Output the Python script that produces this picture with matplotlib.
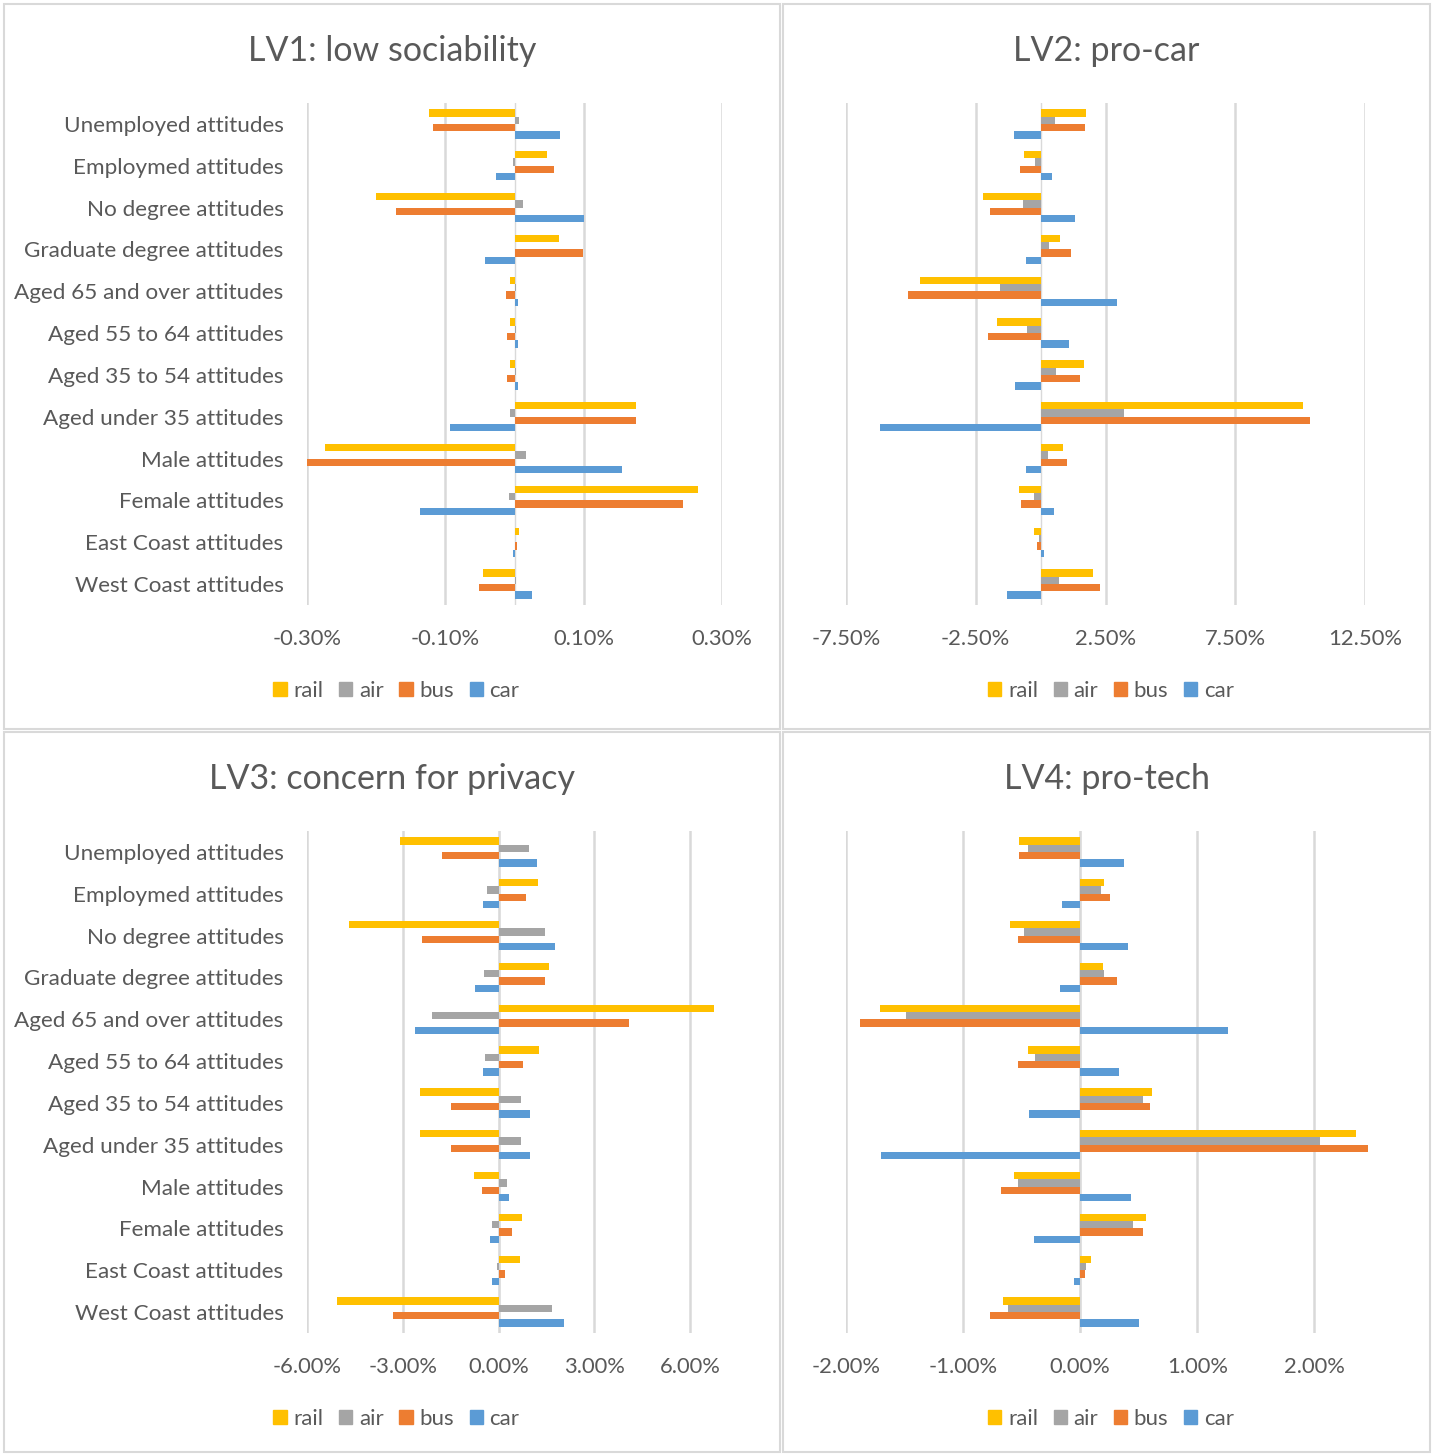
import matplotlib
matplotlib.use("Agg")
import matplotlib.pyplot as plt
from matplotlib.patches import Rectangle, Patch

TEXT_GREY = "#595959"
GRID_GREY = "#d9d9d9"
COLORS = {"rail": "#FFC000", "air": "#A5A5A5", "bus": "#ED7D31", "car": "#5B9BD5"}

plt.rcParams['font.family'] = ['Lato', 'DejaVu Sans']

categories = ["Unemployed attitudes", "Employmed attitudes", "No degree attitudes",
              "Graduate degree attitudes", "Aged 65 and over attitudes",
              "Aged 55 to 64 attitudes", "Aged 35 to 54 attitudes",
              "Aged under 35 attitudes", "Male attitudes", "Female attitudes",
              "East Coast attitudes", "West Coast attitudes"]
series = ["rail", "air", "bus", "car"]

# values in percent, one entry per category (top to bottom)
lv1_rail = [-0.124, 0.047, -0.200, 0.064, -0.007, -0.007, -0.007, 0.175, -0.274, 0.265, 0.006, -0.046]
lv1_air = [0.006, -0.002, 0.012, 0.000, 0.002, 0.002, 0.002, -0.007, 0.017, -0.008, 0.001, 0.002]
lv1_bus = [-0.118, 0.057, -0.172, 0.099, -0.012, -0.011, -0.011, 0.176, -0.301, 0.243, 0.003, -0.051]
lv1_car = [0.066, -0.027, 0.100, -0.043, 0.005, 0.005, 0.005, -0.093, 0.155, -0.137, -0.002, 0.026]

lv2_rail = [1.73, -0.64, -2.23, 0.73, -4.65, -1.70, 1.69, 10.11, 0.86, -0.82, -0.26, 2.03]
lv2_air = [0.57, -0.21, -0.69, 0.32, -1.57, -0.54, 0.60, 3.22, 0.30, -0.26, -0.07, 0.70]
lv2_bus = [1.70, -0.79, -1.95, 1.16, -5.10, -2.04, 1.50, 10.39, 1.00, -0.76, -0.13, 2.28]
lv2_car = [-1.03, 0.44, 1.31, -0.55, 2.94, 1.11, -0.98, -6.19, -0.55, 0.51, 0.13, -1.29]

lv3_rail = [-3.09, 1.23, -4.69, 1.59, 6.76, 1.27, -2.46, -2.46, -0.78, 0.75, 0.66, -5.05]
lv3_air = [0.95, -0.37, 1.46, -0.46, -2.10, -0.43, 0.71, 0.71, 0.27, -0.20, -0.06, 1.67]
lv3_bus = [-1.77, 0.87, -2.39, 1.46, 4.08, 0.78, -1.49, -1.49, -0.52, 0.42, 0.19, -3.32]
lv3_car = [1.21, -0.49, 1.76, -0.73, -2.63, -0.48, 0.99, 0.99, 0.33, -0.28, -0.22, 2.05]

lv4_rail = [-0.525, 0.200, -0.598, 0.194, -1.711, -0.443, 0.617, 2.355, -0.568, 0.562, 0.095, -0.663]
lv4_air = [-0.450, 0.177, -0.483, 0.204, -1.484, -0.384, 0.539, 2.049, -0.535, 0.450, 0.049, -0.614]
lv4_bus = [-0.520, 0.250, -0.532, 0.315, -1.882, -0.535, 0.598, 2.456, -0.677, 0.532, 0.039, -0.772]
lv4_car = [0.374, -0.154, 0.404, -0.171, 1.258, 0.335, -0.437, -1.704, 0.433, -0.391, -0.053, 0.502]

W, H = 1437, 1454
fig = plt.figure(figsize=(W / 100, H / 100), dpi=100)


def px_axes(left, top, right, bottom):
    return fig.add_axes([left / W, 1 - bottom / H, (right - left) / W, (bottom - top) / H])


def draw_panel(title, data, box, plot_box, xlim, xticks, show_labels):
    # chart border
    bx0, by0, bx1, by1 = box
    fig.patches.append(Rectangle((bx0 / W, 1 - by1 / H), (bx1 - bx0) / W, (by1 - by0) / H,
                                 transform=fig.transFigure, fill=False,
                                 edgecolor=GRID_GREY, linewidth=1.5))
    ax = px_axes(*plot_box)
    h = 0.175
    for k, name in enumerate(series):
        ys = [i + (k - 1.5) * h for i in range(len(categories))]
        ax.barh(ys, data[k], height=h, color=COLORS[name], zorder=3)
    for t in xticks:
        ax.axvline(t, color=GRID_GREY, linewidth=1.8, zorder=1)
    ax.axvline(0, color=GRID_GREY, linewidth=1.0, zorder=2)
    ax.set_xlim(*xlim)
    ax.set_ylim(len(categories) - 0.5, -0.5)
    ax.set_xticks(xticks)
    ax.set_xticklabels(["%.2f%%" % t for t in xticks], fontsize=15.8, color=TEXT_GREY)
    ax.set_yticks(range(len(categories)))
    if show_labels:
        ax.set_yticklabels(categories, fontsize=16.2, color=TEXT_GREY)
    else:
        ax.set_yticklabels([])
    ax.tick_params(length=0, pad=17, axis="y")
    ax.tick_params(length=0, pad=17, axis="x")
    for s in ax.spines.values():
        s.set_visible(False)
    cx = (bx0 + bx1) / 2
    fig.text(cx / W, 1 - (by0 + 47) / H, title, fontsize=24.5, color=TEXT_GREY,
             ha="center", va="center")
    handles = [Patch(color=COLORS[n], label=n) for n in series]
    fig.legend(handles=handles, loc="center", ncol=4, frameon=False,
               bbox_to_anchor=((cx + 4.5) / W, 1 - (by0 + 687) / H),
               fontsize=16, handlelength=0.6, handleheight=0.6,
               handletextpad=0.3, columnspacing=0.7, labelcolor=TEXT_GREY)
    return ax


draw_panel("LV1: low sociability", [lv1_rail, lv1_air, lv1_bus, lv1_car],
           (4, 4, 780, 729), (307, 103, 722, 605), (-0.3, 0.3),
           [-0.3, -0.1, 0.1, 0.3], True)
draw_panel("LV2: pro-car", [lv2_rail, lv2_air, lv2_bus, lv2_car],
           (783, 4, 1430, 729), (846, 103, 1365, 605), (-7.5, 12.5),
           [-7.5, -2.5, 2.5, 7.5, 12.5], False)
draw_panel("LV3: concern for privacy", [lv3_rail, lv3_air, lv3_bus, lv3_car],
           (4, 732, 780, 1452), (307, 831, 722, 1333), (-6, 7),
           [-6, -3, 0, 3, 6], True)
draw_panel("LV4: pro-tech", [lv4_rail, lv4_air, lv4_bus, lv4_car],
           (783, 732, 1430, 1452), (846, 831, 1373, 1333), (-2, 2.5),
           [-2, -1, 0, 1, 2], False)

fig.savefig("out.png", dpi=100, facecolor="white")
